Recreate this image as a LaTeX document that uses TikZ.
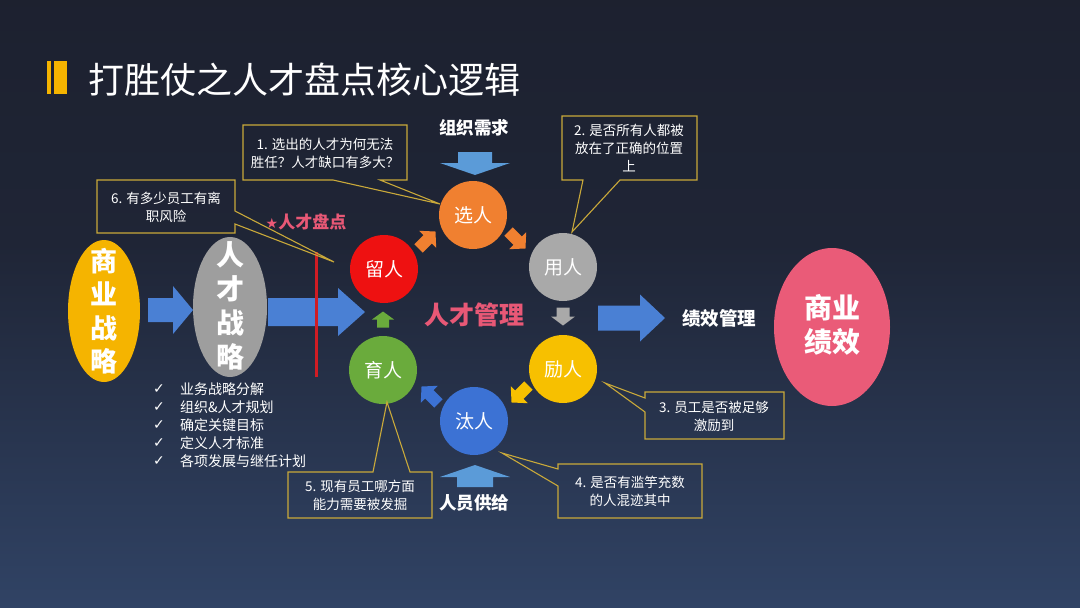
\documentclass[tikz,border=0pt]{standalone}
\usepackage{fontspec}
\setmainfont{Noto Sans CJK SC}
\newfontfamily\symf{DejaVu Sans}
\usetikzlibrary{shapes.geometric}
\definecolor{bgtop}{HTML}{1A1C27}
\definecolor{bgmid}{HTML}{1F2536}
\definecolor{bgbot}{HTML}{3F5C8C}
\definecolor{cgold}{HTML}{C9A93A}
\definecolor{cred}{HTML}{EE1111}
\definecolor{corange}{HTML}{F08030}
\definecolor{cgray}{HTML}{A9A9A9}
\definecolor{cyellow}{HTML}{F7C000}
\definecolor{cblue}{HTML}{3C72D4}
\definecolor{cgreen}{HTML}{6AAB3C}
\definecolor{sygold}{HTML}{F5B400}
\definecolor{sgray}{HTML}{9E9E9E}
\definecolor{cpink}{HTML}{EA5B78}
\definecolor{tpink}{HTML}{E85876}
\definecolor{abblue}{HTML}{4A80D4}
\definecolor{alblue}{HTML}{5B9BD8}
\definecolor{lred}{HTML}{D01C24}
\pgfdeclareverticalshading{bgshade}{100bp}{color(0bp)=(bgbot); color(55bp)=(bgmid); color(100bp)=(bgtop)}
% centred block arrow: cx, cy, angle, length, shaft half, head half, head length, style
\newcommand{\blkarrow}[8]{\fill[#8,shift={(#1,#2)},rotate=#3] ({-#4/2},{-#5}) -- ({#4/2-#7},{-#5}) -- ({#4/2-#7},{-#6}) -- ({#4/2},0) -- ({#4/2-#7},{#6}) -- ({#4/2-#7},{#5}) -- ({-#4/2},{#5}) -- cycle;}
\begin{document}
\begin{tikzpicture}[x=1pt,y=-1pt,
  circ/.style={circle,minimum size=68pt,inner sep=0pt,text=white,font=\fontsize{19}{19}\selectfont},
  callout/.style={draw=cgold,line width=1.1pt},
  ctext/.style={align=center,text=white,font=\fontsize{13.5}{18}\selectfont,inner sep=0pt},
  btext/.style={text=white,font=\fontsize{17.5}{20}\selectfont\bfseries,inner sep=0pt},
  ltext/.style={anchor=west,text=white,font=\fontsize{14}{16}\selectfont,inner sep=0pt},
  chk/.style={text=white,font=\symf\fontsize{14}{16}\selectfont,inner sep=0pt}]
\useasboundingbox (0,0) rectangle (1080,608);
\shade[shading=bgshade] (0,0) rectangle (1080,608);

% title
\fill[sygold] (47,61) rectangle (51,94);
\fill[sygold] (54,61) rectangle (67,94);
\node[anchor=west,text=white,inner sep=0pt,font=\fontsize{36}{37}\selectfont] (title) at (88,80) {打胜仗之人才盘点核心逻辑};

% left ellipses
\node[ellipse,fill=sygold,minimum width=72pt,minimum height=142pt,inner sep=0pt] (sz) at (104,311) {};
\node[align=center,text=white,inner sep=0pt,font=\fontsize{27}{33.5}\selectfont\bfseries] (szt) at (104,311) {商\\业\\战\\略};
\node[ellipse,fill=sgray,minimum width=74pt,minimum height=140pt,inner sep=0pt] (rz) at (230,307) {};
\node[align=center,text=white,inner sep=0pt,font=\fontsize{28}{34}\selectfont\bfseries] (rzt) at (230,306) {人\\才\\战\\略};

% big arrows
\blkarrow{170.5}{310}{0}{45}{12}{24}{20}{abblue}
\blkarrow{316.5}{312}{0}{97}{14}{24}{27}{abblue}
\blkarrow{631.5}{318}{0}{67}{12.5}{23.5}{25}{abblue}
\blkarrow{475}{163.5}{-90}{23}{17}{35}{12}{alblue}
\blkarrow{475}{476}{90}{22}{18}{35}{12}{alblue}

% red line
\draw[lred,line width=3pt] (316,252) -- (316,377);

% checklist
\foreach \yy/\tt [count=\i] in {389/业务战略分解,407/组织\&人才规划,425/确定关键目标,443/定义人才标准,461/各项发展与继任计划}{
  \node[chk] (c\i) at (159,\yy) {✓};
  \node[ltext] (l\i) at (180,\yy) {\tt};
}

% circles
\node[circ,fill=cred] (liu) at (384,269) {留人};
\node[circ,fill=corange] (xuan) at (473,215) {选人};
\node[circ,fill=cgray] (yong) at (563,267) {用人};
\node[circ,fill=cyellow] (li) at (563,369) {励人};
\node[circ,fill=cblue] (tai) at (474,421) {汰人};
\node[circ,fill=cgreen] (yu) at (383,370) {育人};

% small cycle arrows
\blkarrow{427}{240}{45}{24}{6}{12}{11}{corange}
\blkarrow{517}{240}{-45}{24}{6}{12}{11}{corange}
\blkarrow{563}{316.5}{-90}{18}{6.5}{12}{9}{cgray}
\blkarrow{520}{394}{-135}{24}{6}{12}{11}{cyellow}
\blkarrow{430}{395}{135}{24}{6}{12}{11}{cblue}
\blkarrow{383}{319.5}{90}{16}{6}{11}{8}{cgreen}

% centre texts
\node[text=tpink,inner sep=0pt,font=\fontsize{25}{26}\selectfont\bfseries] (gl) at (474,315) {人才管理};
\node[text=tpink,inner sep=0pt,font=\fontsize{17}{18}\selectfont\bfseries] (pd) at (306,222) {{\symf\fontsize{14}{14}\selectfont ★}人才盘点};
\node[btext] (zz) at (474,128) {组织需求};
\node[btext] (ry) at (474,503) {人员供给};
\node[text=white,inner sep=0pt,font=\fontsize{18.5}{20}\selectfont\bfseries] (jx) at (719,318) {绩效管理};

% right ellipse
\node[ellipse,fill=cpink,minimum width=116pt,minimum height=158pt,inner sep=0pt] (syjx) at (832,327) {};
\node[align=center,text=white,inner sep=0pt,font=\fontsize{28}{34}\selectfont\bfseries] (syjxt) at (832,325) {商业\\绩效};

% callouts
\draw[callout] (243,125) -- (407,125) -- (407,180) -- (380,180) -- (440,204) -- (333,180) -- (243,180) -- cycle;
\node[ctext] (t1) at (325,153) {1. 选出的人才为何无法\\胜任？人才缺口有多大？};
\draw[callout] (97,180) -- (235,180) -- (235,211) -- (334,262) -- (235,224) -- (235,233) -- (97,233) -- cycle;
\node[ctext] (t6) at (166,207) {6. 有多少员工有离\\职风险};
\draw[callout] (562,116) -- (697,116) -- (697,180) -- (620,180) -- (572,232) -- (583,180) -- (562,180) -- cycle;
\node[ctext] (t2) at (629,148.5) {2. 是否所有人都被\\放在了正确的位置\\上};
\draw[callout] (645,392) -- (784,392) -- (784,439) -- (645,439) -- (645,412) -- (605,383) -- (645,398) -- cycle;
\node[ctext] (t3) at (714,416) {3. 员工是否被足够\\激励到};
\draw[callout] (558,464) -- (702,464) -- (702,518) -- (558,518) -- (558,486) -- (502,453) -- (558,469) -- cycle;
\node[ctext] (t4) at (630,491.5) {4. 是否有滥竽充数\\的人混迹其中};
\draw[callout] (288,472) -- (373,472) -- (387,402) -- (410,472) -- (432,472) -- (432,518) -- (288,518) -- cycle;
\node[ctext] (t5) at (360,495.5) {5. 现有员工哪方面\\能力需要被发掘};
\end{tikzpicture}
\end{document}
